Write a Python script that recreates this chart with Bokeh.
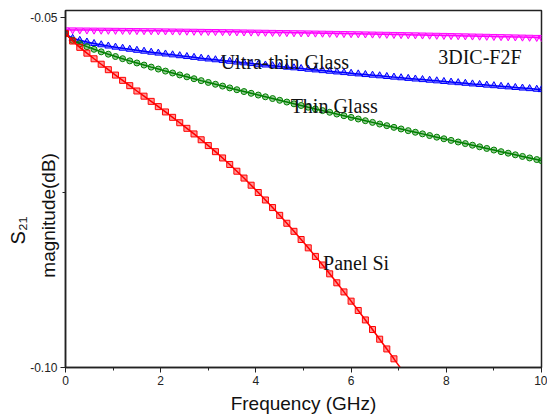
import math
from bokeh.plotting import figure
from bokeh.models import Label, FixedTicker, SingleIntervalTicker, NumeralTickFormatter, Range1d
from bokeh.embed import file_html
from bokeh.resources import INLINE

# ---------------- data ----------------
freq = [0.00, 0.15, 0.30, 0.45, 0.60, 0.75, 0.90, 1.05, 1.20, 1.35,
        1.50, 1.65, 1.80, 1.95, 2.10, 2.25, 2.40, 2.55, 2.70, 2.85,
        3.00, 3.15, 3.30, 3.45, 3.60, 3.75, 3.90, 4.05, 4.20, 4.35,
        4.50, 4.65, 4.80, 4.95, 5.10, 5.25, 5.40, 5.55, 5.70, 5.85,
        6.00, 6.15, 6.30, 6.45, 6.60, 6.75, 6.90, 7.05, 7.20, 7.35,
        7.50, 7.65, 7.80, 7.95, 8.10, 8.25, 8.40, 8.55, 8.70, 8.85,
        9.00, 9.15, 9.30, 9.45, 9.60, 9.75, 9.90, 10.00]

s21_3dic = [-0.051800, -0.051810, -0.051820, -0.051830, -0.051840, -0.051851, -0.051862, -0.051873, -0.051884, -0.051895,
            -0.051907, -0.051919, -0.051931, -0.051943, -0.051955, -0.051968, -0.051981, -0.051994, -0.052007, -0.052020,
            -0.052034, -0.052048, -0.052062, -0.052076, -0.052091, -0.052105, -0.052120, -0.052135, -0.052151, -0.052166,
            -0.052182, -0.052198, -0.052214, -0.052230, -0.052247, -0.052264, -0.052281, -0.052298, -0.052315, -0.052333,
            -0.052350, -0.052368, -0.052387, -0.052405, -0.052424, -0.052442, -0.052461, -0.052480, -0.052500, -0.052520,
            -0.052539, -0.052559, -0.052580, -0.052600, -0.052621, -0.052642, -0.052663, -0.052684, -0.052705, -0.052727,
            -0.052749, -0.052771, -0.052793, -0.052816, -0.052839, -0.052861, -0.052885, -0.052900]

s21_ultra = [-0.05237, -0.05301, -0.05330, -0.05354, -0.05375, -0.05393, -0.05411, -0.05427, -0.05442, -0.05457,
             -0.05472, -0.05485, -0.05499, -0.05512, -0.05525, -0.05537, -0.05549, -0.05561, -0.05573, -0.05585,
             -0.05596, -0.05607, -0.05618, -0.05629, -0.05640, -0.05651, -0.05661, -0.05672, -0.05682, -0.05692,
             -0.05702, -0.05713, -0.05722, -0.05732, -0.05742, -0.05752, -0.05762, -0.05771, -0.05781, -0.05790,
             -0.05800, -0.05809, -0.05818, -0.05827, -0.05836, -0.05846, -0.05855, -0.05864, -0.05873, -0.05882,
             -0.05890, -0.05899, -0.05908, -0.05917, -0.05926, -0.05934, -0.05943, -0.05952, -0.05960, -0.05969,
             -0.05977, -0.05986, -0.05994, -0.06003, -0.06011, -0.06019, -0.06028, -0.06033]

s21_thin = [-0.05237, -0.05330, -0.05379, -0.05420, -0.05458, -0.05494, -0.05528, -0.05561, -0.05592, -0.05623,
            -0.05653, -0.05683, -0.05712, -0.05740, -0.05769, -0.05796, -0.05824, -0.05851, -0.05878, -0.05905,
            -0.05931, -0.05957, -0.05983, -0.06009, -0.06035, -0.06061, -0.06086, -0.06111, -0.06136, -0.06161,
            -0.06186, -0.06211, -0.06236, -0.06260, -0.06285, -0.06309, -0.06333, -0.06357, -0.06382, -0.06406,
            -0.06430, -0.06453, -0.06477, -0.06501, -0.06525, -0.06548, -0.06572, -0.06595, -0.06619, -0.06642,
            -0.06665, -0.06689, -0.06712, -0.06735, -0.06758, -0.06781, -0.06804, -0.06827, -0.06850, -0.06873,
            -0.06896, -0.06919, -0.06941, -0.06964, -0.06987, -0.07009, -0.07032, -0.07047]

s21_panel = [-0.05233, -0.05340, -0.05430, -0.05513, -0.05593, -0.05671, -0.05749, -0.05826, -0.05901, -0.05977,
             -0.06053, -0.06127, -0.06201, -0.06276, -0.06352, -0.06429, -0.06506, -0.06586, -0.06666, -0.06749,
             -0.06832, -0.06919, -0.07009, -0.07102, -0.07198, -0.07296, -0.07398, -0.07502, -0.07609, -0.07717,
             -0.07828, -0.07941, -0.08056, -0.08173, -0.08292, -0.08414, -0.08537, -0.08663, -0.08791, -0.08921,
             -0.09053, -0.09186, -0.09321, -0.09458, -0.09596, -0.09735, -0.09876, -0.10018]

series_names = ["3DIC-F2F", "Ultra-thin Glass", "Thin Glass", "Panel Si"]
y_major_ticks = [-0.10, -0.05]
y_minor_ticks = [-0.075]

# ---------------- figure ----------------
p = figure(width=547, height=418, output_backend="svg", toolbar_location=None,
           x_range=Range1d(0, 10), y_range=Range1d(-0.10, -0.04904),
           min_border_left=65, min_border_right=6, min_border_top=10, min_border_bottom=51)
p.grid.visible = False
p.outline_line_color = "#222222"
p.outline_line_width = 1.5

FONT = "Liberation Sans"
for ax in (p.xaxis[0], p.yaxis[0]):
    ax.axis_line_color = "#222222"
    ax.axis_line_width = 1.5
    ax.major_tick_line_color = "#222222"
    ax.minor_tick_line_color = "#222222"
    ax.major_tick_out = 5
    ax.major_tick_in = 0
    ax.minor_tick_out = 3
    ax.minor_tick_in = 0
    ax.major_label_text_font = FONT
    ax.major_label_text_font_size = "12px"
    ax.major_label_text_color = "#222222"
    ax.major_label_standoff = 3
    ax.axis_label_text_font = FONT
    ax.axis_label_text_font_style = "normal"
    ax.axis_label_text_color = "#111111"

p.xaxis.ticker = SingleIntervalTicker(interval=2, num_minor_ticks=2)
p.yaxis.ticker = FixedTicker(ticks=y_major_ticks, minor_ticks=y_minor_ticks)
p.yaxis.formatter = NumeralTickFormatter(format="0.00")

p.xaxis.axis_label = "Frequency (GHz)"
p.xaxis.axis_label_text_font_size = "19px"
p.xaxis.axis_label_standoff = 5

# second line of the y title: axis label (trailing spaces move it below the frame centre)
p.yaxis.axis_label = "magnitude(dB)" + " " * 10
p.yaxis.axis_label_text_font_size = "19px"
p.yaxis.axis_label_standoff = -32

# ---------------- series ----------------
colors = ["#FF00FF", "#0000FF", "#008000", "#FF0000"]
markers = ["inverted_triangle", "triangle", "circle", "square"]
sizes = [7, 7, 6, 6]
ys = [s21_3dic, s21_ultra, s21_thin, s21_panel]

for yv, c, m, s in zip(ys, colors, markers, sizes):
    xv = freq[:len(yv)]
    p.line(xv, yv, line_color=c, line_width=1.5)
    keep = [i for i, v in enumerate(yv) if v > -0.0995]
    p.scatter([xv[i] for i in keep], [yv[i] for i in keep], marker=m, size=s,
              line_color=c, line_width=1, fill_color=c, fill_alpha=0.4)

# ---------------- in-plot labels ----------------
label_x = [7.83, 3.26, 4.73, 5.41]
label_y = [-0.05561, -0.05643, -0.06261, -0.08514]
for t, lx, ly in zip(series_names, label_x, label_y):
    p.add_layout(Label(x=lx, y=ly, text=t, text_font="Liberation Serif", text_font_size="20px",
                       text_color="#111111", text_align="left", text_baseline="alphabetic"))

# first line of the y title, in the left side panel
p.add_layout(Label(x=4, y=137, x_units="screen", y_units="screen", text="S\u2082\u2081",
                   angle=math.pi / 2, text_font=FONT, text_font_size="20px", text_color="#111111",
                   text_align="center", text_baseline="middle"), "left")

open("out.html", "w").write(file_html(p, INLINE))
